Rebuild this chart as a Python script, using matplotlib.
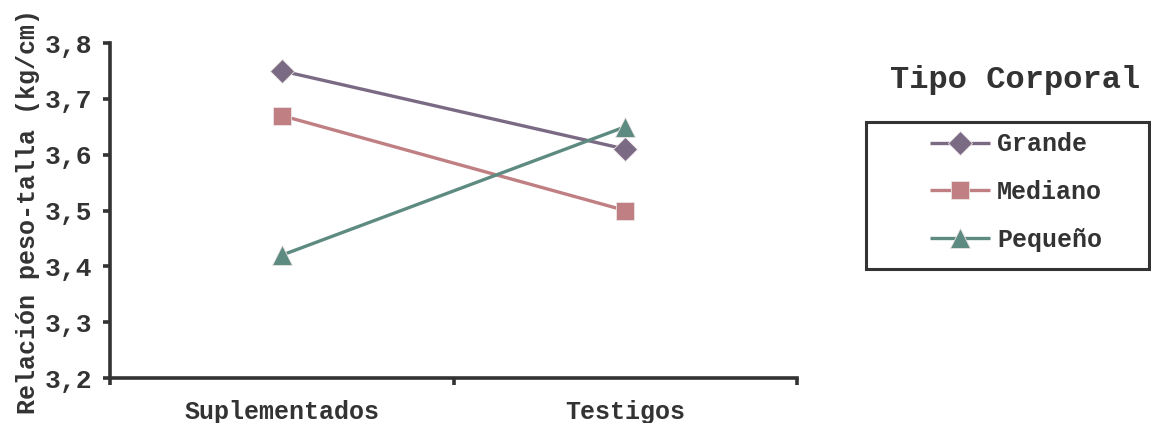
import matplotlib
matplotlib.use("Agg")
import matplotlib.pyplot as plt
from matplotlib.patches import Rectangle

# Data
categories = ["Suplementados", "Testigos"]
series_names = ["Grande", "Mediano", "Pequeño"]
grande = [3.75, 3.61]
mediano = [3.67, 3.50]
pequeno = [3.42, 3.65]
y_ticks = [3.2, 3.3, 3.4, 3.5, 3.6, 3.7, 3.8]
y_tick_labels = ["3,2", "3,3", "3,4", "3,5", "3,6", "3,7", "3,8"]

colors = ["#7a6a84", "#c07f82", "#5e8b81"]
markers = ["D", "s", "^"]
msizes = [12.5, 13, 14]

plt.rcParams["font.family"] = ["Liberation Mono", "DejaVu Sans Mono"]
plt.rcParams["font.weight"] = "bold"
axis_color = "#333333"

W, H = 1151, 423
fig = plt.figure(figsize=(W / 100, H / 100), dpi=100)
ax = fig.add_axes([110 / W, 1 - 378 / H, (797 - 110) / W, (378 - 43) / H])

xs = list(range(len(categories)))
handles = []
for vals, name, c, m, ms in zip([grande, mediano, pequeno], series_names, colors, markers, msizes):
    h, = ax.plot(xs, vals, color=c, lw=2.4, marker=m, ms=ms,
                 markerfacecolor=c, markeredgecolor="#ece4e4", markeredgewidth=0.6,
                 label=name, solid_capstyle="butt")
    handles.append(h)

ax.set_xlim(-0.5, 1.5)
ax.set_ylim(3.2, 3.8)
ax.set_yticks(y_ticks)
ax.set_yticklabels(y_tick_labels, fontsize=19, fontweight="bold", color=axis_color)
ax.set_xticks([-0.5, 0.5, 1.5])
ax.set_xticklabels([])
for x, lab in zip(xs, categories):
    ax.text(x, (378 - 419) / (378 - 43), lab, transform=ax.get_xaxis_transform(),
            ha="center", va="baseline", fontsize=18, fontweight="bold", color=axis_color)

for s in ["top", "right"]:
    ax.spines[s].set_visible(False)
for s in ["left", "bottom"]:
    ax.spines[s].set_linewidth(2.6)
    ax.spines[s].set_color(axis_color)
ax.tick_params(axis="both", direction="out", length=5, width=2.6, color=axis_color)
ax.tick_params(axis="y", pad=8)

fig.text(28 / W, 1 - 212 / H, "Relación peso-talla (kg/cm)", rotation=90,
         ha="center", va="center", fontsize=18, fontweight="bold", color=axis_color)

# Legend title and framed legend box
fig.text(1015 / W, 1 - 80 / H, "Tipo Corporal", ha="center", va="center",
         fontsize=23, fontweight="bold", color=axis_color)
fig.add_artist(Rectangle((866 / W, 1 - 269 / H), (1149 - 866) / W, (269 - 122) / H,
                         transform=fig.transFigure, fill=False,
                         edgecolor=axis_color, linewidth=2.2))
leg = fig.legend(handles=handles, loc="center left",
                 bbox_to_anchor=(930 / W, 1 - 192 / H), frameon=False,
                 prop={"size": 18, "weight": "bold"}, handlelength=2.4,
                 handletextpad=0.28, labelspacing=0.95, borderpad=0, borderaxespad=0)
for t in leg.get_texts():
    t.set_color(axis_color)

fig.savefig("out.png", dpi=100)
